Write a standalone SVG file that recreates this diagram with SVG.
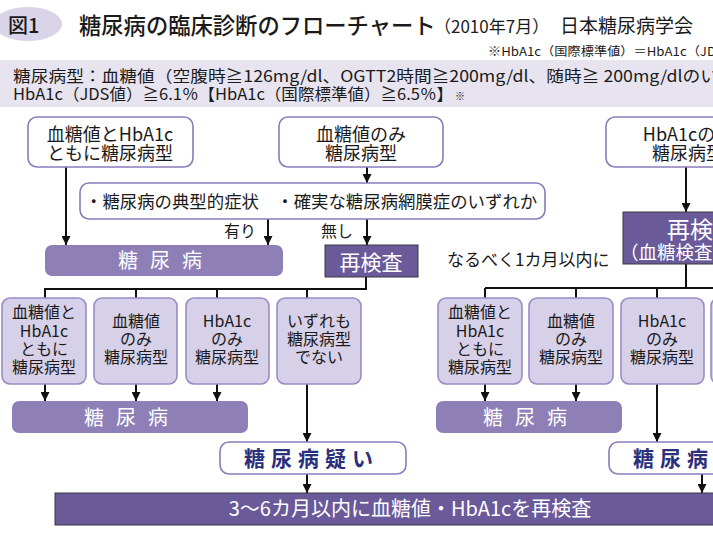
<svg xmlns="http://www.w3.org/2000/svg" width="713" height="538" viewBox="0 0 713 538">
<defs>
<marker id="arr" viewBox="0 0 10 10" refX="10" refY="5" markerWidth="9" markerHeight="9" markerUnits="userSpaceOnUse" orient="auto">
<path d="M0,0 L10,5 L0,10 z" fill="#111"/>
</marker>
<style>
text{font-family:"Noto Sans CJK JP","Noto Sans",sans-serif;fill:#1a1a1a}
.wb{fill:#fff;stroke:#8a7cbb;stroke-width:1.6}
.lb{fill:#d6d0e8;stroke:#9a8cc4;stroke-width:1.6}
.mb{fill:#8e7fb6}
.db{fill:#6a5a9a;stroke:#3a3a3a;stroke-width:1}
.wt{fill:#fff}
.nv{fill:#2b2f7c;font-weight:bold}
.c{text-anchor:middle}
.ln{stroke:#111;stroke-width:2;fill:none}
.ar{stroke:#111;stroke-width:2;fill:none;marker-end:url(#arr)}
</style>
</defs>
<rect width="713" height="538" fill="#fff"/>
<g id="header">
<ellipse cx="28" cy="24" rx="34" ry="17" fill="#d9d4e7"/>
<text x="8" y="33" font-size="20" font-weight="500">図1</text>
<text x="79" y="34" font-size="22.3" font-weight="500">糖尿病の臨床診断のフローチャート</text>
<text x="434" y="33" font-size="17">（2010年7月）</text>
<text x="560" y="33" font-size="19">日本糖尿病学会</text>
<text x="488" y="56" font-size="12" textLength="228" lengthAdjust="spacingAndGlyphs">※HbA1c（国際標準値）＝HbA1c（JD</text>
<rect x="0" y="60" width="713" height="47" fill="#e7e4ef"/>
<text x="13" y="82" font-size="16" textLength="705" lengthAdjust="spacingAndGlyphs">糖尿病型：血糖値（空腹時≧126mg/dl、OGTT2時間≧200mg/dl、随時≧ 200mg/dlのい</text>
<text x="13" y="100" font-size="16" textLength="440" lengthAdjust="spacingAndGlyphs">HbA1c（JDS値）≧6.1％【HbA1c（国際標準値）≧6.5％】</text>
<text x="455" y="100" font-size="10">※</text>
</g>
<g id="connectors">
<path class="ar" d="M66,167 V245"/>
<path class="ar" d="M367,167 V183"/>
<path class="ar" d="M268,219 V245"/>
<path class="ar" d="M367,219 V245"/>
<path class="ln" d="M366,277 V289 H45 V298"/>
<path class="ln" d="M136,289 V298 M217,289 V298 M307,289 V298"/>
<path class="ar" d="M45,384 V401"/>
<path class="ar" d="M136,384 V401"/>
<path class="ar" d="M217,384 V401"/>
<path class="ar" d="M307,384 V442"/>
<path class="ar" d="M307,474 V493"/>
<path class="ar" d="M686,167 V212"/>
<path class="ln" d="M686,264 V288 M485,288 H780 M485,288 V298 M576,288 V298 M657,288 V298 M752,288 V298"/>
<path class="ar" d="M485,384 V401"/>
<path class="ar" d="M576,384 V401"/>
<path class="ar" d="M657,384 V442"/>
<path class="ar" d="M702,474 V493"/>
<text x="224" y="237" font-size="16">有り</text>
<text x="321" y="237" font-size="16">無し</text>
<text x="447" y="266" font-size="17">なるべく1カ月以内に</text>
</g>
<g id="nodeA">
<rect class="wb" x="28" y="117" width="165" height="50" rx="9"/>
<text class="c" x="110" y="141" font-size="18">血糖値とHbA1c</text>
<text class="c" x="110" y="160" font-size="18">ともに糖尿病型</text>
</g>
<g id="nodeB">
<rect class="wb" x="279" y="117" width="164" height="50" rx="9"/>
<text class="c" x="361" y="141" font-size="18">血糖値のみ</text>
<text class="c" x="361" y="160" font-size="18">糖尿病型</text>
</g>
<g id="nodeC">
<rect class="wb" x="606" y="117" width="165" height="50" rx="9"/>
<text class="c" x="688" y="141" font-size="18">HbA1cのみ</text>
<text class="c" x="688" y="160" font-size="18">糖尿病型</text>
</g>
<g id="nodeD">
<rect class="wb" x="80" y="183" width="465" height="36" rx="9"/>
<text x="85" y="208" font-size="17.4">・糖尿病の典型的症状　・確実な糖尿病網膜症のいずれか</text>
</g>
<g id="dm1">
<rect class="mb" x="45" y="245" width="238" height="31" rx="7"/>
<text class="wt" x="118" y="268" font-size="20" letter-spacing="12">糖尿病</text>
</g>
<g id="retest1">
<rect class="db" x="325" y="245" width="93" height="32"/>
<text class="wt c" x="371" y="270" font-size="21">再検査</text>
</g>
<g id="retest2">
<rect class="db" x="623" y="212" width="150" height="52"/>
<text class="wt" x="667" y="238" font-size="23">再検査</text>
<text class="wt" x="620" y="259" font-size="18.5">（血糖検査）</text>
</g>
<g id="L1">
<rect class="lb" x="2" y="298" width="84" height="86" rx="8"/>
<text class="c" x="44" y="318" font-size="16">血糖値と</text>
<text class="c" x="44" y="337" font-size="16">HbA1c</text>
<text class="c" x="44" y="355" font-size="16">ともに</text>
<text class="c" x="44" y="373" font-size="16">糖尿病型</text>
</g>
<g id="L2">
<rect class="lb" x="94" y="298" width="83" height="86" rx="8"/>
<text class="c" x="136" y="327" font-size="16">血糖値</text>
<text class="c" x="136" y="345" font-size="16">のみ</text>
<text class="c" x="136" y="363" font-size="16">糖尿病型</text>
</g>
<g id="L3">
<rect class="lb" x="186" y="298" width="83" height="86" rx="8"/>
<text class="c" x="227" y="327" font-size="16">HbA1c</text>
<text class="c" x="227" y="345" font-size="16">のみ</text>
<text class="c" x="227" y="363" font-size="16">糖尿病型</text>
</g>
<g id="L4">
<rect class="lb" x="277" y="298" width="84" height="86" rx="8"/>
<text class="c" x="319" y="327" font-size="16">いずれも</text>
<text class="c" x="319" y="345" font-size="16">糖尿病型</text>
<text class="c" x="319" y="363" font-size="16">でない</text>
</g>
<g id="R1">
<rect class="lb" x="438" y="298" width="84" height="86" rx="8"/>
<text class="c" x="480" y="318" font-size="16">血糖値と</text>
<text class="c" x="480" y="337" font-size="16">HbA1c</text>
<text class="c" x="480" y="355" font-size="16">ともに</text>
<text class="c" x="480" y="373" font-size="16">糖尿病型</text>
</g>
<g id="R2">
<rect class="lb" x="529" y="298" width="84" height="86" rx="8"/>
<text class="c" x="571" y="327" font-size="16">血糖値</text>
<text class="c" x="571" y="345" font-size="16">のみ</text>
<text class="c" x="571" y="363" font-size="16">糖尿病型</text>
</g>
<g id="R3">
<rect class="lb" x="621" y="298" width="83" height="86" rx="8"/>
<text class="c" x="662" y="327" font-size="16">HbA1c</text>
<text class="c" x="662" y="345" font-size="16">のみ</text>
<text class="c" x="662" y="363" font-size="16">糖尿病型</text>
</g>
<g id="R4">
<rect class="lb" x="711" y="298" width="84" height="86" rx="8"/>
</g>
<g id="dm2">
<rect class="mb" x="12" y="401" width="236" height="32" rx="7"/>
<text class="wt" x="84" y="425" font-size="20" letter-spacing="12">糖尿病</text>
</g>
<g id="dm3">
<rect class="mb" x="436" y="401" width="186" height="32" rx="7"/>
<text class="wt" x="483" y="425" font-size="20" letter-spacing="12">糖尿病</text>
</g>
<g id="susp1">
<rect class="wb" x="220" y="442" width="186" height="32" rx="9"/>
<text class="nv" x="244" y="466" font-size="21" letter-spacing="6">糖尿病疑い</text>
</g>
<g id="susp2">
<rect class="wb" x="609" y="442" width="186" height="32" rx="9"/>
<text class="nv" x="633" y="466" font-size="21" letter-spacing="6">糖尿病疑い</text>
</g>
<g id="final">
<rect class="db" x="55" y="493" width="720" height="32"/>
<text class="wt c" x="410" y="516" font-size="20">3～6カ月以内に血糖値・HbA1cを再検査</text>
</g>
</svg>
